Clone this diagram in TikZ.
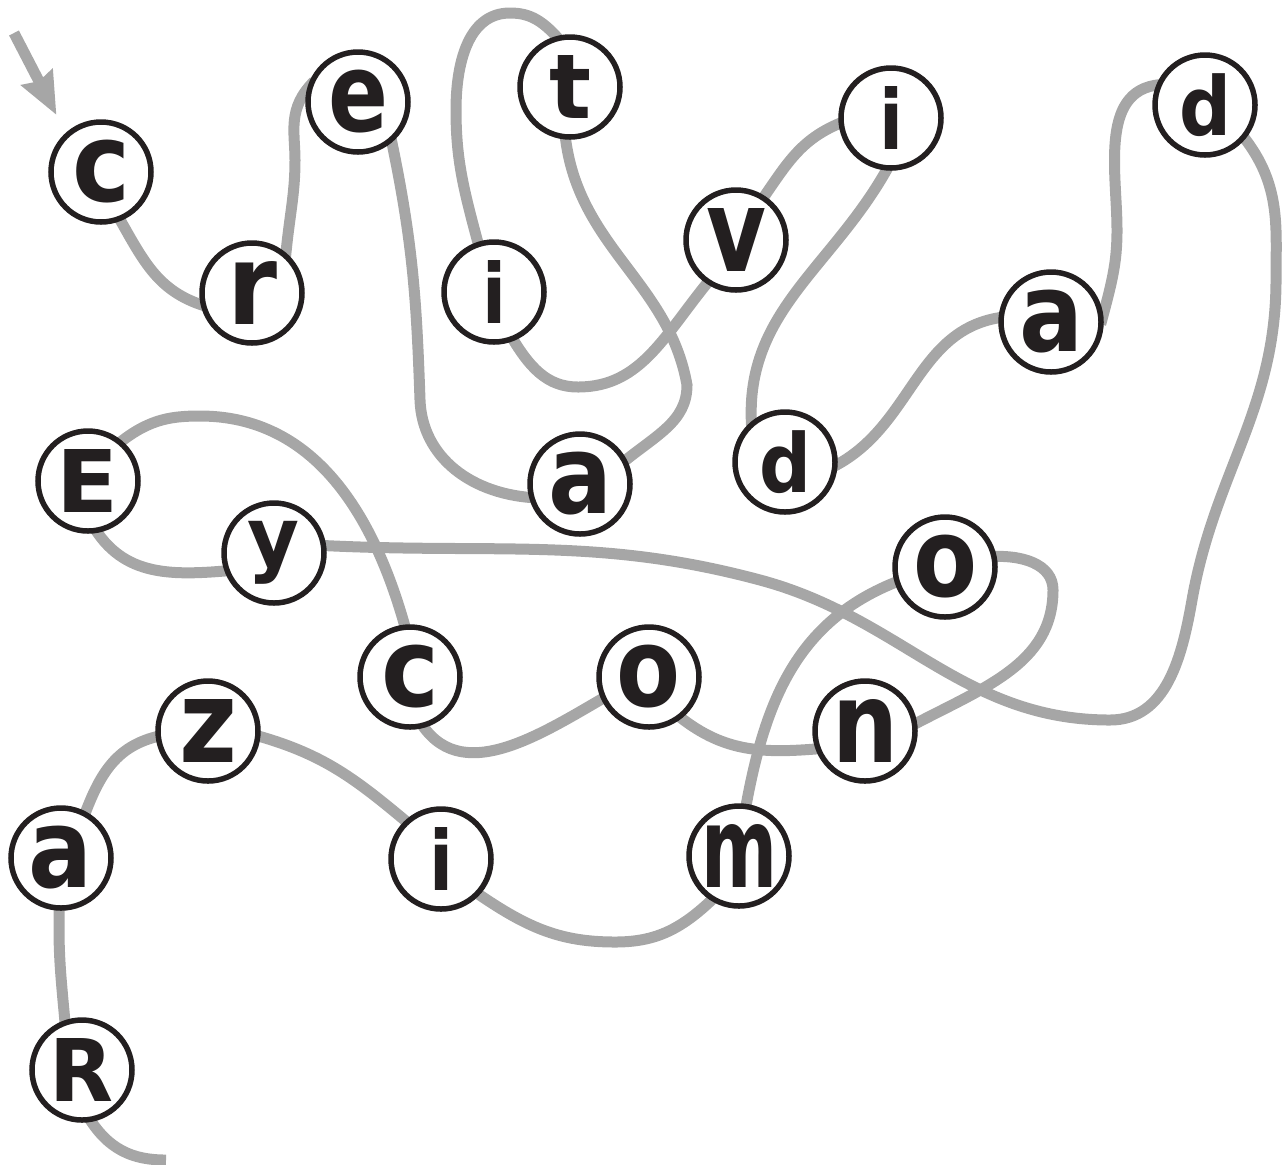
\documentclass[tikz,border=0pt]{standalone}
\usepackage{fontspec}
\setmainfont{DejaVu Sans}
\usepackage{graphicx}
\usepackage{xcolor}
\usetikzlibrary{arrows.meta, backgrounds}

\definecolor{rope}{RGB}{166,166,166}
\definecolor{ink}{RGB}{35,31,32}

% letter squeezed into a box of given width and fixed total height
\newcommand{\glyph}[2]{\resizebox*{#1pt}{31.5pt}{\bfseries #2}}

\tikzset{
  bead/.style={circle, draw=ink, line width=2.75pt, fill=white,
               minimum size=50pt, inner sep=0pt, text=ink},
  % ends tucked a little under the beads
  strand/.style={draw=rope, line width=5.5pt, shorten <=-5pt, shorten >=-5pt},
}

\begin{document}
\begin{tikzpicture}[x=0.5pt, y=-0.5pt]
    \useasboundingbox (0,0) rectangle (1288,1164);

    % --- Beads: creatividad ---
    \node[bead] (c1) at (101,172) {\glyph{29}{c}};
    \node[bead] (r1) at (252,293) {\glyph{25}{r}};
    \node[bead] (e1) at (358,102) {\glyph{30}{e}};
    \node[bead] (a1) at (580,484) {\glyph{32}{a}};
    \node[bead] (t1) at (570,87) {\glyph{21}{t}};
    \node[bead] (i1) at (494,292) {\glyph{12}{i}};
    \node[bead] (v1) at (736,240) {\glyph{30}{v}};
    \node[bead] (i2) at (891,118) {\glyph{12}{i}};
    \node[bead] (d1) at (785,462) {\glyph{26}{d}};
    \node[bead] (a2) at (1051,322) {\glyph{32}{a}};
    \node[bead] (d2) at (1205,105) {\glyph{26}{d}};

    % --- Beads: y Economizar ---
    \node[bead] (y1) at (274,553) {\glyph{26}{y}};
    \node[bead] (E1) at (88,481) {\glyph{31}{E}};
    \node[bead] (c2) at (410,677) {\glyph{29}{c}};
    \node[bead] (o1) at (649,677) {\glyph{32}{o}};
    \node[bead] (n1) at (865,731) {\glyph{33}{n}};
    \node[bead] (o2) at (945,567) {\glyph{32}{o}};
    \node[bead] (m1) at (739,856) {\glyph{38}{m}};
    \node[bead] (i3) at (441,859) {\glyph{12}{i}};
    \node[bead] (z1) at (208,731) {\glyph{29}{z}};
    \node[bead] (a3) at (61,858) {\glyph{32}{a}};
    \node[bead] (R1) at (82,1070) {\glyph{32}{R}};

    \coordinate (start) at (14,33);
    \coordinate (tail) at (166,1160);

    \begin{scope}[on background layer]
        % start arrow
        \draw[strand, -{Stealth[length=21pt, width=17pt, inset=2pt]},
              shorten <=0pt, shorten >=10pt] (start) -- (c1.132);

        % --- String through the first word ---
        \draw[strand] (c1.-68) to[out=-60, in=165] (r1.-167);
        \draw[strand] (r1.50) to[out=85, in=-90] (295,160) to[out=90, in=225] (e1.165);
        \draw[strand] (e1.-50) to[out=-78, in=92] (420,400) to[out=-88, in=178] (a1.-165);
        \draw[strand] (a1.28) to[out=40, in=-90] (687,385) to[out=100, in=-85] (t1.-95);
        \draw[strand] (t1.105) to[out=130, in=0] (510,13) to[out=180, in=90] (456,110)
                      to[out=-90, in=105] (i1.108);
        \draw[strand] (i1.-68) to[out=-60, in=180] (578,387) to[out=0, in=-130] (v1.-124);
        \draw[strand] (v1.57) to[out=55, in=200] (i2.-174);
        \draw[strand] (i2.-95) to[out=-118, in=95] (d1.130);
        \draw[strand] (d1.-3) to[out=25, in=185] (a2.175);
        \draw[strand] (a2.8) to[out=75, in=-90] (1117,230) to[out=90, in=180] (d2.157);

        % long way round to the y
        \draw[strand] (d2.-40) to[out=-50, in=90] (1276,280) to[out=-90, in=80] (1192,600)
                      to[out=-100, in=0] (1110,720) to[out=180, in=-15] (760,580)
                      to[out=165, in=-3] (y1.8);

        % --- String through the second word ---
        \draw[strand] (y1.200) to[out=185, in=-60] (E1.-80);
        \draw[strand] (E1.50) to[out=40, in=180] (200,416) to[out=0, in=105] (c2.96);
        \draw[strand] (c2.-75) to[out=-60, in=210] (o1.205);
        \draw[strand] (o1.-52) to[out=-40, in=185] (n1.-160);
        \draw[strand] (n1.9) to[out=28, in=-90] (1053,590) to[out=90, in=5] (o2.12);
        \draw[strand] (o2.197) to[out=200, in=80] (m1.82);
        \draw[strand] (m1.238) to[out=225, in=0] (615,942) to[out=180, in=-35] (i3.-43);
        \draw[strand] (i3.133) to[out=140, in=-15] (z1.-6);
        \draw[strand] (z1.186) to[out=190, in=70] (a3.62);
        \draw[strand] (a3.-92) to[out=-92, in=95] (R1.109);
        \draw[strand, shorten >=0pt] (R1.-80) to[out=-60, in=180] (tail);
    \end{scope}

\end{tikzpicture}
\end{document}
